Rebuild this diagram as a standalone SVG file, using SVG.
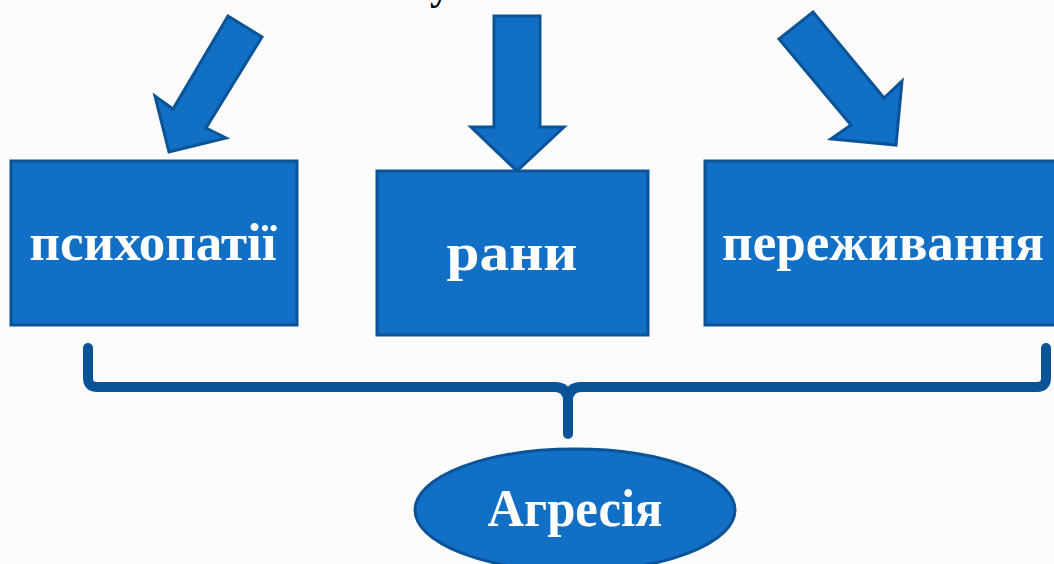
<svg xmlns="http://www.w3.org/2000/svg" width="1054" height="564" viewBox="0 0 1054 564">
<style>
.shape{fill:#116fc5;stroke:#0a5396;stroke-width:3;stroke-linejoin:miter}
.lbl{font-family:"Liberation Serif","DejaVu Serif",serif;font-weight:bold;font-size:53px;fill:#ffffff;text-anchor:middle}
.brace{fill:none;stroke:#0a5396;stroke-width:10;stroke-linecap:round;stroke-linejoin:round}
</style>
<rect width="1054" height="564" fill="#fcfcfc"/>
<text x="430" y="-1" font-family="Liberation Serif,serif" font-weight="bold" font-size="40" fill="#000">у</text>
<g id="arrows">
<polygon class="shape" points="228,16 262,37 206,128 226,138 169,152 155,96 173,109"/>
<polygon class="shape" points="494,16 540,16 540,127 564,127 517,171 471,127 494,127"/>
<polygon class="shape" points="813,12 884,98 902,81 896,145 831,139 851,125 779,39"/>
</g>
<g id="node-psychopathy">
<rect class="shape" x="11" y="161" width="286" height="164"/>
<text class="lbl" x="153" y="260" textLength="247" lengthAdjust="spacingAndGlyphs">психопатії</text>
</g>
<g id="node-wounds">
<rect class="shape" x="377" y="171" width="271" height="164"/>
<text class="lbl" x="512" y="270" textLength="131" lengthAdjust="spacingAndGlyphs">рани</text>
</g>
<g id="node-experiences">
<rect class="shape" x="705" y="161" width="360" height="164"/>
<text class="lbl" x="883" y="260" textLength="322" lengthAdjust="spacingAndGlyphs">переживання</text>
</g>
<g id="connectors">
<path class="brace" d="M88,348 V378 Q88,387 97,387 H555 Q566,387 568,398 V434"/>
<path class="brace" d="M1046,348 V378 Q1046,387 1037,387 H581 Q570,387 568,398"/>
</g>
<g id="node-aggression">
<ellipse class="shape" cx="575" cy="510" rx="160" ry="61"/>
<text class="lbl" x="575" y="526" font-size="51" textLength="175" lengthAdjust="spacingAndGlyphs">Агресія</text>
</g>
</svg>
